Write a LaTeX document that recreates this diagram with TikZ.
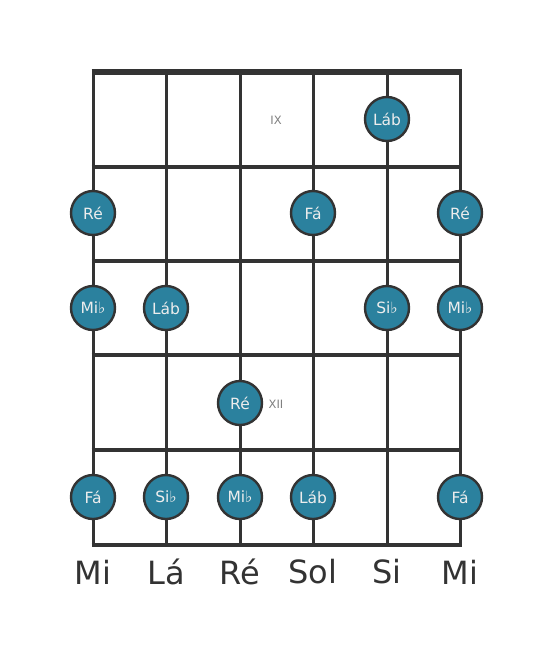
\documentclass[tikz,border=0pt]{standalone}
\usepackage{fontspec}
\setmainfont{DejaVu Sans}
\begin{document}
\begin{tikzpicture}[x=1pt,y=-1pt,
  fretline/.style={line width=4.6pt,draw=black!80},
  strline/.style={line width=3pt,draw=black!80},
  note/.style={circle,fill=notecol,draw=black!80,line width=2.4pt,minimum size=44pt,inner sep=0pt,text=white!93!black,font=\fontsize{15.5}{15.5}\selectfont},
  strlabel/.style={text=black!80,font=\fontsize{32}{32}\selectfont,anchor=center},
  fretnum/.style={text=black!50,font=\fontsize{11.5}{11.5}\selectfont}]
\definecolor{notecol}{HTML}{2B819E}
\useasboundingbox (0,0) rectangle (553,656);
\fill[white] (0,0) rectangle (553,656);
% strings
\foreach \x/\n in {93/s1,166/s2,240/s3,313/s4,387/s5,460/s6}{
  \coordinate (\n t) at (\x,72);
  \coordinate (\n b) at (\x,545);
  \draw[strline] (\n t) -- (\n b);
}
% frets
\foreach \y/\n in {167/f1,261/f2,355/f3,450/f4,545/f5}{
  \coordinate (\n l) at (91.5,\y);
  \coordinate (\n r) at (461.5,\y);
  \draw[fretline] (\n l) -- (\n r);
}
\coordinate (f0l) at (91.5,72);
\coordinate (f0r) at (461.5,72);
\draw[line width=5.5pt,draw=black!80] (f0l) -- (f0r);
% fret numbers
\node[fretnum] (ix) at (276,120) {IX};
\node[fretnum] (xii) at (276,404) {XII};
% notes
\node[note] (n1) at (387,119) {Láb};
\node[note] (n2) at (93,213) {Ré};
\node[note] (n3) at (313,213) {Fá};
\node[note] (n4) at (460,213) {Ré};
\node[note] (n5) at (93,308) {Mi♭};
\node[note] (n6) at (166,308) {Láb};
\node[note] (n7) at (387,308) {Si♭};
\node[note] (n8) at (460,308) {Mi♭};
\node[note] (n9) at (240,403) {Ré};
\node[note] (n10) at (93,497) {Fá};
\node[note] (n11) at (166,497) {Si♭};
\node[note] (n12) at (240,497) {Mi♭};
\node[note] (n13) at (313,497) {Láb};
\node[note] (n14) at (460,497) {Fá};
% string labels
\node[strlabel] (l1) at (93,572) {Mi};
\node[strlabel] (l2) at (166,572) {Lá};
\node[strlabel] (l3) at (240,572) {Ré};
\node[strlabel] (l4) at (313,572) {Sol};
\node[strlabel] (l5) at (387,572) {Si};
\node[strlabel] (l6) at (460,572) {Mi};
\end{tikzpicture}
\end{document}
